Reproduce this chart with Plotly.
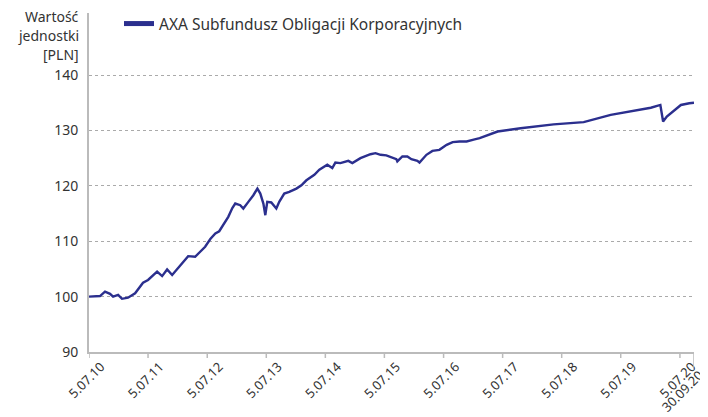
import plotly.graph_objects as go

series_name = "AXA Subfundusz Obligacji Korporacyjnych"

dates = [
    "2010-07-05", "2010-08-11", "2010-09-11", "2010-10-12", "2010-11-12", "2010-12-01",
    "2011-01-01", "2011-01-25", "2011-03-03", "2011-04-16", "2011-06-04", "2011-07-05",
    "2011-07-30", "2011-08-30", "2011-09-30", "2011-10-31", "2011-12-01", "2011-12-19",
    "2012-02-01", "2012-03-09", "2012-04-21", "2012-05-22", "2012-06-22", "2012-07-24",
    "2012-08-24", "2012-09-17", "2012-10-12", "2012-11-12", "2012-12-07", "2012-12-25",
    "2013-01-25", "2013-02-13", "2013-03-16", "2013-04-16", "2013-05-11", "2013-05-29",
    "2013-06-17", "2013-06-29", "2013-07-11", "2013-08-05", "2013-09-05", "2013-09-23",
    "2013-10-24", "2013-11-24", "2014-01-07", "2014-02-07", "2014-03-10", "2014-04-28",
    "2014-05-29", "2014-07-17", "2014-08-17", "2014-09-05", "2014-10-06", "2014-11-24",
    "2014-12-19", "2015-02-07", "2015-04-10", "2015-05-11", "2015-06-11", "2015-07-17",
    "2015-09-17", "2015-09-23", "2015-10-24", "2015-11-24", "2015-12-19", "2016-01-25",
    "2016-02-07", "2016-03-21", "2016-04-27", "2016-06-09", "2016-07-24", "2016-08-30",
    "2016-10-12", "2016-11-24", "2017-01-01", "2017-02-13", "2017-06-04", "2017-10-24",
    "2018-05-16", "2018-11-18", "2019-05-04", "2019-09-05", "2020-01-07", "2020-03-06",
    "2020-03-23", "2020-04-15", "2020-05-20", "2020-07-11", "2020-09-01", "2020-09-30",
]
values = [
    100.0, 100.0, 100.1, 100.9, 100.5, 100.0,
    100.3, 99.6, 99.8, 100.6, 102.5, 103.0,
    103.6, 104.5, 103.7, 104.9, 103.9, 104.5,
    106.1, 107.3, 107.2, 108.1, 109.0, 110.4,
    111.4, 111.8, 112.9, 114.4, 116.0, 116.8,
    116.5, 115.9, 117.1, 118.3, 119.5, 118.6,
    116.8, 114.7, 117.1, 117.0, 115.9, 117.1,
    118.6, 118.9, 119.5, 120.1, 121.0, 122.0,
    122.9, 123.8, 123.2, 124.2, 124.1, 124.5,
    124.1, 125.0, 125.7, 125.9, 125.6, 125.5,
    124.8, 124.4, 125.3, 125.3, 124.8, 124.5,
    124.2, 125.6, 126.3, 126.5, 127.4, 127.9,
    128.0, 128.0, 128.3, 128.6, 129.8, 130.4,
    131.1, 131.5, 132.8, 133.5, 134.1, 134.6,
    131.6, 132.5, 133.4, 134.6, 134.9, 135.0,
]

tick_dates = [
    "2010-07-05", "2011-07-05", "2012-07-05", "2013-07-05", "2014-07-05", "2015-07-05",
    "2016-07-05", "2017-07-05", "2018-07-05", "2019-07-05", "2020-07-05",
]
tick_labels = [
    "5.07.10", "5.07.11", "5.07.12", "5.07.13", "5.07.14", "5.07.15",
    "5.07.16", "5.07.17", "5.07.18", "5.07.19", "5.07.20",
]
end_date = "2020-09-30"
end_label = "30.09.20"
y_ticks = [90, 100, 110, 120, 130, 140]
y_title_lines = ["Wartość", "jednostki", "[PLN]"]

LINE = "#2B2F8E"
AXIS = "#BBBBBB"
TEXT = "#333333"
FONT = "Noto Sans"
PLOT_H = 339  # plot area height in px

fig = go.Figure()
fig.add_trace(go.Scatter(x=dates, y=values, mode="lines", name=series_name,
                         line=dict(color=LINE, width=2.4), showlegend=False))
fig.add_trace(go.Scatter(x=[None], y=[None], mode="lines", name=series_name,
                         line=dict(color=LINE, width=5), showlegend=True))

annotations = []
for i, line in enumerate(y_title_lines):
    annotations.append(dict(
        text=line, xref="paper", yref="paper", x=0, y=1.0,
        xanchor="right", yanchor="middle", xshift=-9, yshift=-3.5 - 19 * i,
        borderpad=0, showarrow=False, font=dict(size=14, color=TEXT),
    ))
annotations.append(dict(
    text=end_label, xref="x", yref="paper", x=end_date, y=0,
    xanchor="center", yanchor="middle", xshift=-12, yshift=-38.5,
    borderpad=0, textangle=-45, showarrow=False, font=dict(size=13, color=TEXT),
))

# tick marks along the date axis (short) and the long end tick
shapes = [dict(type="line", xref="x", yref="paper", x0=d, x1=d, y0=0, y1=-6 / PLOT_H,
               line=dict(color=AXIS, width=1.5)) for d in tick_dates]
shapes.append(dict(type="line", xref="x", yref="paper", x0=end_date, x1=end_date,
                   y0=0, y1=-18 / PLOT_H, line=dict(color=AXIS, width=1.5)))

fig.update_layout(
    width=700, height=409,
    margin=dict(l=81, r=14, t=5, b=65, autoexpand=False),
    plot_bgcolor="white", paper_bgcolor="white",
    font=dict(family=FONT, size=14, color=TEXT),
    legend=dict(x=0.0496, y=0.9676, xanchor="left", yanchor="middle",
                bgcolor="rgba(0,0,0,0)", font=dict(size=15.5, color=TEXT)),
    xaxis=dict(
        type="date", range=["2010-07-05", end_date],
        tickvals=tick_dates, ticktext=tick_labels, tickangle=-45,
        ticks="", ticklabelshift=12,
        showline=True, linecolor=AXIS, linewidth=2,
        showgrid=False, zeroline=False, tickfont=dict(size=13),
        automargin=False,
    ),
    yaxis=dict(
        range=[90, 151.2], tickvals=y_ticks,
        ticks="outside", ticklen=6, tickcolor="rgba(0,0,0,0)",
        showline=True, linecolor=AXIS, linewidth=2,
        showgrid=True, gridcolor="#AAAAAA", griddash="dot", gridwidth=1,
        zeroline=False, tickfont=dict(size=14), automargin=False,
    ),
    annotations=annotations,
    shapes=shapes,
)

fig.write_html("out.html")
